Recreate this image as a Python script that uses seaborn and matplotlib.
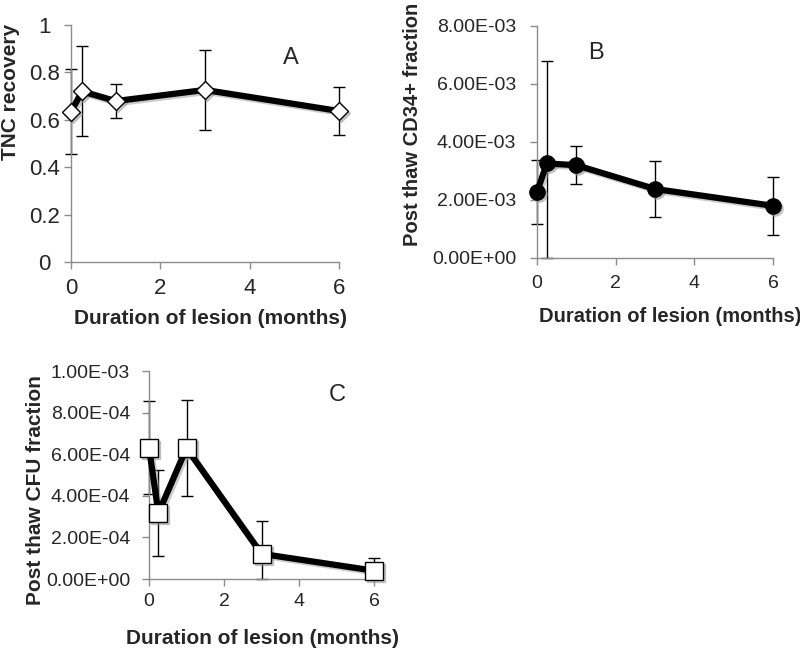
import numpy as np
import pandas as pd
import matplotlib
matplotlib.use('Agg')
import matplotlib.pyplot as plt
import matplotlib.transforms as mtransforms
import seaborn as sns

sns.set_style('ticks')
plt.rcParams['font.family'] = ['Liberation Sans', 'DejaVu Sans']

# 数据
months = [0, 0.25, 1, 3, 6]
tnc = [0.634, 0.72, 0.679, 0.726, 0.637]
tnc_err = [0.18, 0.19, 0.07, 0.168, 0.10]
cd34 = [2.28e-3, 3.26e-3, 3.20e-3, 2.38e-3, 1.80e-3]
cd34_err = [1.1e-3, 3.53e-3, 0.66e-3, 0.98e-3, 1.0e-3]
cfu = [6.32e-4, 3.17e-4, 6.29e-4, 1.21e-4, 0.40e-4]
cfu_err = [2.25e-4, 2.08e-4, 2.3e-4, 1.6e-4, 0.6e-4]

a_ticks = [0, 0.2, 0.4, 0.6, 0.8, 1.0]
a_labels = ['0', '0.2', '0.4', '0.6', '0.8', '1']
b_ticks = [0, 2e-3, 4e-3, 6e-3, 8e-3]
b_labels = ['0.00E+00', '2.00E-03', '4.00E-03', '6.00E-03', '8.00E-03']
c_ticks = [0, 2e-4, 4e-4, 6e-4, 8e-4, 1e-3]
c_labels = ['0.00E+00', '2.00E-04', '4.00E-04', '6.00E-04', '8.00E-04', '1.00E-03']

W, H = 800, 649
fig = plt.figure(figsize=(W / 100, H / 100), dpi=100)


def px(x, y):
    # 像素坐标 -> figure 坐标
    return x / W, 1 - y / H


ax_a = fig.add_axes([71 / W, 1 - 262 / H, 268 / W, 237 / H])
ax_b = fig.add_axes([537 / W, 1 - 258 / H, 236 / W, 232 / H])
ax_c = fig.add_axes([149 / W, 1 - 579 / H, 225 / W, 208 / H])

panels = [
    dict(ax=ax_a, vals=tnc, errs=tnc_err, mk='D', fc='white', ms=9.5, ylab='TNC recovery',
         ylim=(0, 1), ticks=a_ticks, labels=a_labels, tag='A', tagpos=(291, 58),
         xlabpos=(211, 319), ylabpos=(11, 92), ytick_ha='center', ypad=14, xpad=6.5, tsize=16, lsize=15),
    dict(ax=ax_b, vals=cd34, errs=cd34_err, mk='o', fc='black', ms=11, ylab='Post thaw CD34+ fraction',
         ylim=(0, 8e-3), ticks=b_ticks, labels=b_labels, tag='B', tagpos=(596, 53),
         xlabpos=(670, 317), ylabpos=(412, 124), ytick_ha='right', ypad=10, xpad=7, tsize=14, lsize=14.5),
    dict(ax=ax_c, vals=cfu, errs=cfu_err, mk='s', fc='white', ms=13, ylab='Post thaw CFU fraction',
         ylim=(0, 1e-3), ticks=c_ticks, labels=c_labels, tag='C', tagpos=(337, 395),
         xlabpos=(262, 638), ylabpos=(36, 490), ytick_ha='right', ypad=8.5, xpad=5, tsize=14, lsize=15),
]

for p in panels:
    ax = p['ax']
    vals = np.array(p['vals'])
    errs = np.array(p['errs'])
    lo = np.clip(vals - errs, p['ylim'][0], None)
    hi = vals + errs
    ax.errorbar(months, vals, yerr=[vals - lo, hi - vals], fmt='none', ecolor='black',
                elinewidth=1, capsize=4.5, capthick=1, zorder=2, clip_on=False)
    df = pd.DataFrame({'month': months, 'val': vals})

    # 阴影
    shadow_tr = ax.transData + mtransforms.ScaledTranslation(2 / 100, -2 / 100, fig.dpi_scale_trans)
    sns.lineplot(data=df, x='month', y='val', ax=ax, color='#999999', alpha=0.5, linewidth=4.5,
                 marker=p['mk'], markersize=p['ms'], markerfacecolor='#999999',
                 markeredgecolor='#999999', markeredgewidth=1, zorder=2.5, clip_on=False,
                 transform=shadow_tr)

    sns.lineplot(data=df, x='month', y='val', ax=ax, color='black', linewidth=4.5,
                 marker=p['mk'], markersize=p['ms'], markerfacecolor=p['fc'],
                 markeredgecolor='black', markeredgewidth=1, zorder=3, clip_on=False)
    ax.set_xlim(0, 6)
    ax.set_ylim(*p['ylim'])
    ax.set_xticks([0, 2, 4, 6])
    ax.set_xticklabels(['0', '2', '4', '6'])
    ax.set_yticks(p['ticks'])
    ax.set_yticklabels(p['labels'], ha=p['ytick_ha'])
    ax.tick_params(labelsize=p['tsize'], color='#8c8c8c', length=5, width=1)
    ax.tick_params(axis='y', pad=p['ypad'])
    ax.tick_params(axis='x', pad=p['xpad'])
    for s in ['left', 'bottom']:
        ax.spines[s].set_color('#8c8c8c')
        ax.spines[s].set_linewidth(1)
    sns.despine(ax=ax)

    ax.set_xlabel('Duration of lesion (months)', fontsize=p['lsize'], fontweight='bold', va='center')
    ax.xaxis.set_label_coords(*px(*p['xlabpos']), transform=fig.transFigure)
    ax.set_ylabel(p['ylab'], fontsize=p['lsize'], fontweight='bold', va='center')
    ax.yaxis.set_label_coords(*px(*p['ylabpos']), transform=fig.transFigure)

    fig.text(*px(*p['tagpos']), p['tag'], fontsize=17, ha='center', va='center')

fig.savefig('out.png', dpi=100)
